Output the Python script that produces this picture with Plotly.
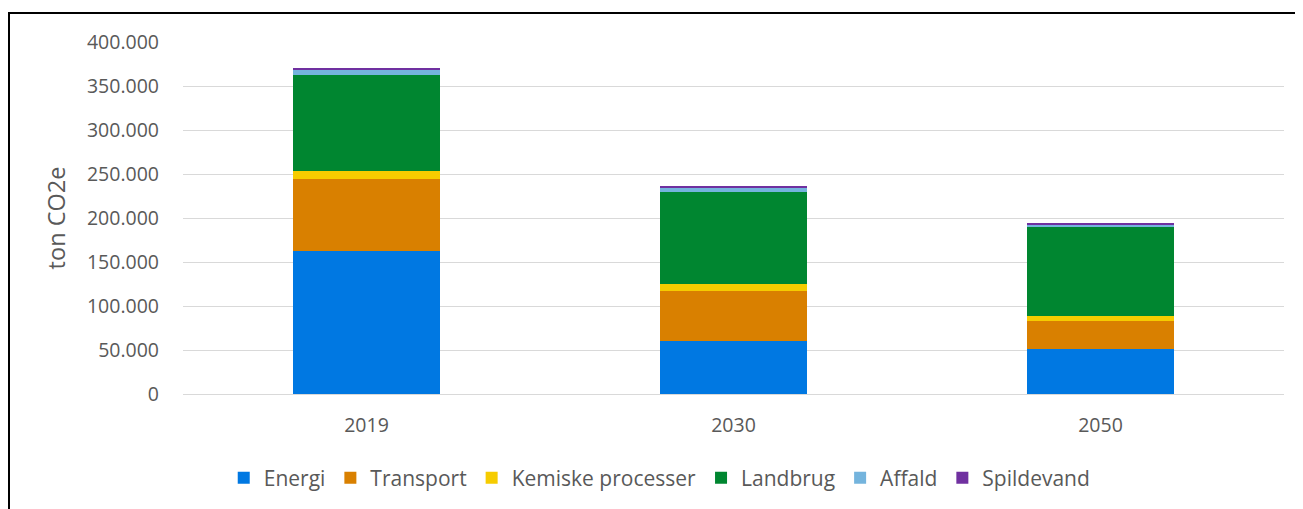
import plotly.graph_objects as go

years = ["2019", "2030", "2050"]
series_names = ["Energi", "Transport", "Kemiske processer", "Landbrug", "Affald", "Spildevand"]
energi = [162000, 60000, 51500]
transport = [82000, 57000, 31800]
kemiske = [9400, 7700, 5300]
landbrug = [109000, 105000, 101500]
affald = [6800, 4500, 2300]
spildevand = [300, 1300, 1000]
colors = ["#0078E2", "#D98000", "#F6CC00", "#008630", "#74B4DD", "#7030A0"]
y_ticks = [0, 50000, 100000, 150000, 200000, 250000, 300000, 350000, 400000]

values = [energi, transport, kemiske, landbrug, affald, spildevand]
font_family = "'Open Sans', sans-serif"
txt = "#595959"

fig = go.Figure()
for name, vals, col in zip(series_names, values, colors):
    fig.add_trace(go.Bar(x=years, y=vals, name=name, marker=dict(color=col, line=dict(width=0))))

# page body has an 8px margin: figure is offset by (8, 8)
fig.update_layout(
    barmode="stack",
    bargap=0.6,
    width=1295, height=501,
    margin=dict(l=175, r=19, t=34, b=115, autoexpand=False),
    paper_bgcolor="white", plot_bgcolor="white",
    separators=",.",
    font=dict(family=font_family, size=21, color=txt),
    legend=dict(orientation="h", x=0.433, xanchor="center",
                yref="container", y=31 / 501, yanchor="middle",
                font=dict(size=21, color=txt), itemwidth=30, traceorder="normal",
                itemsizing="constant"),
    showlegend=True,
)
fig.update_yaxes(range=[0, 400000], tickvals=y_ticks, tickformat=",d", automargin=False,
                 tickfont=dict(size=19.5, color=txt),
                 gridcolor="#D9D9D9", gridwidth=1.3, zeroline=True, zerolinecolor="#D9D9D9",
                 zerolinewidth=1.3, showline=False, ticks="", ticklabelstandoff=23,
                 title=dict(text="ton CO2e", font=dict(size=23.5, color=txt), standoff=14))
fig.update_xaxes(showline=False, ticks="", automargin=False,
                 tickfont=dict(size=19.5, color=txt), ticklabelstandoff=17)

# outer frame (left & top edges visible)
fig.add_shape(type="rect", xref="paper", yref="paper",
              x0=(1 - 175) / 1101, x1=1.2, y0=-1.0, y1=(34 - 5) / 352 + 1,
              line=dict(color="black", width=2), fillcolor="rgba(0,0,0,0)", layer="above")

fig.write_html("out.html")
